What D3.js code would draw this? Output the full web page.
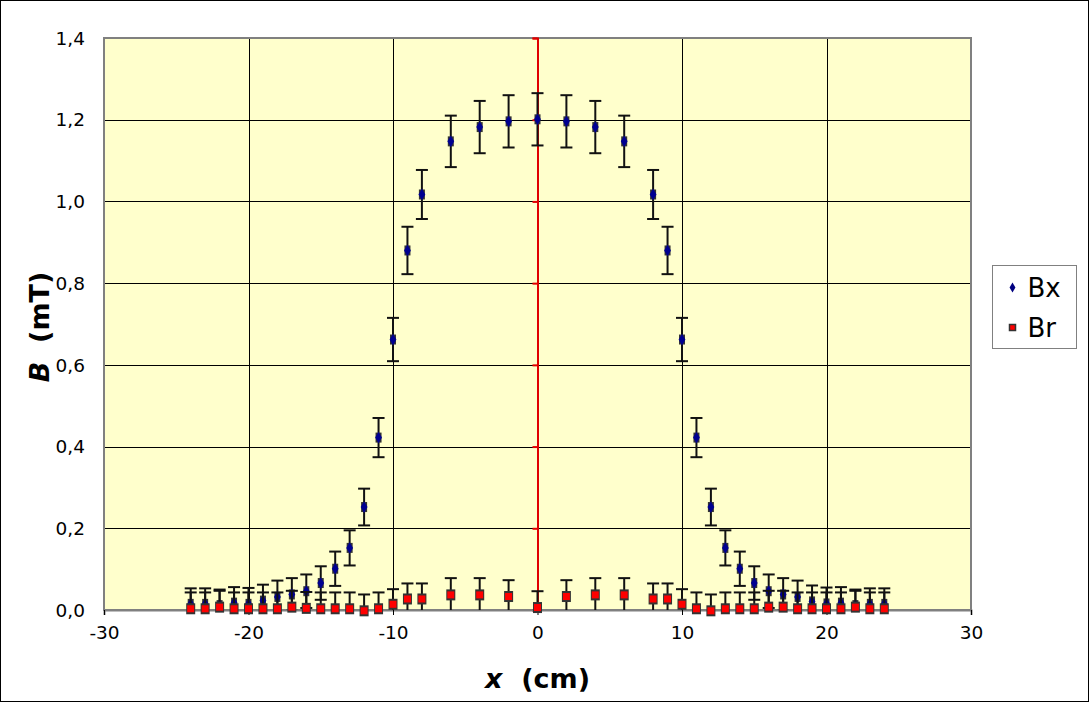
<!DOCTYPE html>
<html>
<head>
<meta charset="utf-8">
<style>
  body { margin: 0; background: #fff; }
  svg text { font-family: "DejaVu Sans", Verdana, sans-serif; }
</style>
</head>
<body>
<div id="chart"></div>
<script src="https://d3js.org/d3.v7.min.js"></script>
<script>
// positions along the axis (cm)
var xCm = [-24, -23, -22, -21, -20, -19, -18, -17, -16, -15, -14, -13, -12, -11, -10, -9, -8,
  -6, -4, -2, 0, 2, 4, 6,
  8, 9, 10, 11, 12, 13, 14, 15, 16, 17, 18, 19, 20, 21, 22, 23, 24];

// axial field Bx (mT)
var bx = [0.015, 0.015, 0.012, 0.018, 0.015, 0.023, 0.032, 0.038, 0.046, 0.066, 0.101, 0.152, 0.252, 0.422, 0.662, 0.880, 1.017,
  1.147, 1.182, 1.196, 1.201, 1.196, 1.182, 1.147,
  1.017, 0.880, 0.662, 0.422, 0.252, 0.152, 0.101, 0.066, 0.046, 0.038, 0.032, 0.021, 0.016, 0.018, 0.012, 0.015, 0.015];
var bxErr = [0.038, 0.038, 0.038, 0.038, 0.039, 0.039, 0.040, 0.040, 0.041, 0.041, 0.042, 0.043, 0.045, 0.048, 0.053, 0.058, 0.060,
  0.063, 0.064, 0.064, 0.064, 0.064, 0.064, 0.063,
  0.060, 0.058, 0.053, 0.048, 0.045, 0.043, 0.042, 0.041, 0.041, 0.040, 0.040, 0.039, 0.039, 0.038, 0.038, 0.038, 0.038];

// radial field Br (mT)
var br = [0.003, 0.003, 0.007, 0.003, 0.003, 0.003, 0.003, 0.007, 0.004, 0.003, 0.003, 0.003, -0.002, 0.003, 0.014, 0.027, 0.027,
  0.037, 0.037, 0.033, 0.006, 0.033, 0.037, 0.037,
  0.027, 0.027, 0.014, 0.003, -0.002, 0.003, 0.003, 0.003, 0.007, 0.007, 0.003, 0.003, 0.003, 0.003, 0.007, 0.003, 0.003];
var brErr = [0.040, 0.040, 0.040, 0.040, 0.040, 0.040, 0.040, 0.040, 0.040, 0.040, 0.040, 0.040, 0.040, 0.040, 0.037, 0.038, 0.038,
  0.041, 0.041, 0.040, 0.040, 0.040, 0.041, 0.041,
  0.038, 0.038, 0.037, 0.040, 0.040, 0.040, 0.040, 0.040, 0.040, 0.040, 0.040, 0.040, 0.040, 0.040, 0.040, 0.040, 0.040];

var xTicks = [-30, -20, -10, 0, 10, 20, 30];
var yTicks = [0, 0.2, 0.4, 0.6, 0.8, 1.0, 1.2, 1.4];
var seriesNames = ["Bx", "Br"];

var W = 1089, H = 702;
var margin = {top: 38, right: 118, bottom: 92, left: 104};
var width = W - margin.left - margin.right,
  height = H - margin.top - margin.bottom;

var svg = d3.select("#chart").append("svg")
  .attr("width", W)
  .attr("height", H);

svg.append("rect")
  .attr("x", 0.5).attr("y", 0.5)
  .attr("width", W - 1).attr("height", H - 1)
  .attr("fill", "#fff")
  .attr("stroke", "#000");

var g = svg.append("g")
  .attr("transform", "translate(" + margin.left + "," + margin.top + ")");

var x = d3.scaleLinear().domain([-30, 30]).range([0, width]);
var y = d3.scaleLinear().domain([0, 1.4]).range([height, 0]);

var fmt = function(v) { return d3.format(".1f")(v).replace(".", ","); };

// plot area
g.append("rect")
  .attr("width", width).attr("height", height)
  .attr("fill", "#FFFFCC");

g.append("clipPath").attr("id", "clip")
  .append("rect").attr("width", width).attr("height", height);

// horizontal grid
g.selectAll(".hgrid")
  .data(yTicks.slice(1, -1))
  .enter().append("line")
  .attr("class", "hgrid")
  .attr("x1", 0).attr("x2", width)
  .attr("y1", function(d) { return Math.round(y(d)) + 0.5; })
  .attr("y2", function(d) { return Math.round(y(d)) + 0.5; })
  .attr("stroke", "#000")
  .attr("stroke-width", 1);

// vertical grid
g.selectAll(".vgrid")
  .data(xTicks.filter(function(d) { return d != 0 && d != -30 && d != 30; }))
  .enter().append("line")
  .attr("class", "vgrid")
  .attr("y1", 0).attr("y2", height)
  .attr("x1", function(d) { return Math.round(x(d)) + 0.5; })
  .attr("x2", function(d) { return Math.round(x(d)) + 0.5; })
  .attr("stroke", "#000")
  .attr("stroke-width", 1);

// plot border
g.append("rect")
  .attr("width", width).attr("height", height)
  .attr("fill", "none")
  .attr("stroke", "#808080")
  .attr("stroke-width", 2);

// red y axis at x = 0
var yAxisG = g.append("g")
  .attr("transform", "translate(" + x(0) + ",0)")
  .call(d3.axisLeft(y).tickValues(yTicks).tickSize(5).tickFormat(""));
yAxisG.select(".domain").attr("stroke", "#E00000").attr("stroke-width", 2);
yAxisG.selectAll(".tick line").attr("stroke", "#E00000").attr("stroke-width", 2);

// y labels at the left of the plot
g.selectAll(".ylab")
  .data(yTicks)
  .enter().append("text")
  .attr("class", "ylab")
  .attr("x", -19)
  .attr("y", function(d) { return y(d); })
  .attr("dy", "0.36em")
  .attr("text-anchor", "end")
  .attr("font-size", 18.5)
  .text(fmt);

// x axis at bottom
var xAxisG = g.append("g")
  .attr("transform", "translate(0," + height + ")")
  .call(d3.axisBottom(x).tickValues(xTicks).tickSize(5).tickPadding(11).tickFormat(d3.format("d")));
xAxisG.select(".domain").attr("stroke", "#808080").attr("stroke-width", 2);
xAxisG.selectAll(".tick line").attr("stroke", "#000");
xAxisG.selectAll("text")
  .attr("font-size", 18.5)
  .attr("font-family", "DejaVu Sans, Verdana, sans-serif")
  .text(function(d) { return d < 0 ? "-" + Math.abs(d) : d; });

// axis titles
var xt = svg.append("text")
  .attr("x", margin.left + x(0))
  .attr("y", 688)
  .attr("text-anchor", "middle")
  .attr("font-size", 27)
  .attr("font-weight", "bold");
xt.append("tspan").attr("font-style", "italic").text("x");
xt.append("tspan").text("\u00a0 (cm)");

var yt = svg.append("text")
  .attr("transform", "translate(49," + (margin.top + height / 2 + 3) + ") rotate(-90)")
  .attr("text-anchor", "middle")
  .attr("font-size", 27)
  .attr("font-weight", "bold");
yt.append("tspan").attr("font-style", "italic").text("B");
yt.append("tspan").text("\u00a0 (mT)");

// data rows
var rowsBx = xCm.map(function(v, i) { return {x: v, y: bx[i], e: bxErr[i]}; });
var rowsBr = xCm.map(function(v, i) { return {x: v, y: br[i], e: brErr[i]}; });

function errorBars(rows, cls) {
  var eg = g.append("g").attr("class", cls).attr("clip-path", "url(#clip)");
  var sel = eg.selectAll("g").data(rows).enter().append("g");
  sel.append("line")
    .attr("x1", function(d) { return x(d.x); })
    .attr("x2", function(d) { return x(d.x); })
    .attr("y1", function(d) { return y(d.y + d.e); })
    .attr("y2", function(d) { return y(d.y - d.e); })
    .attr("stroke", "#111").attr("stroke-width", 2);
  [1, -1].forEach(function(s) {
    sel.append("line")
      .attr("x1", function(d) { return x(d.x) - 6; })
      .attr("x2", function(d) { return x(d.x) + 6; })
      .attr("y1", function(d) { return y(d.y + s * d.e); })
      .attr("y2", function(d) { return y(d.y + s * d.e); })
      .attr("stroke", "#111").attr("stroke-width", 2);
  });
}

errorBars(rowsBx, "errBx");

// Bx markers
var mBx = g.append("g").selectAll("g").data(rowsBx).enter().append("g")
  .attr("transform", function(d) { return "translate(" + x(d.x) + "," + y(d.y) + ")"; });
mBx.append("rect")
  .attr("x", -3).attr("y", -5).attr("width", 6).attr("height", 10)
  .attr("fill", "#333");
mBx.append("path")
  .attr("d", d3.symbol().type(d3.symbolDiamond).size(40))
  .attr("fill", "#000090");

errorBars(rowsBr, "errBr");

// Br markers
var mBr = g.append("g").selectAll("g").data(rowsBr).enter().append("g")
  .attr("transform", function(d) { return "translate(" + x(d.x) + "," + y(d.y) + ")"; });
mBr.append("rect")
  .attr("x", -4.5).attr("y", -5.5).attr("width", 9).attr("height", 11)
  .attr("fill", "#333");
mBr.append("rect")
  .attr("x", -3.5).attr("y", -3.5).attr("width", 7).attr("height", 7)
  .attr("fill", "#FF0000");

// legend
var lg = svg.append("g").attr("transform", "translate(992.5,265.5)");
lg.append("rect")
  .attr("width", 84).attr("height", 83)
  .attr("fill", "#fff")
  .attr("stroke", "#808080");
var items = lg.selectAll(".item").data(seriesNames).enter().append("g")
  .attr("class", "item")
  .attr("transform", function(d, i) { return "translate(0," + (22 + i * 40) + ")"; });
items.append("path")
  .attr("transform", "translate(20,0)")
  .attr("d", function(d, i) {
    return d3.symbol().type(i == 0 ? d3.symbolDiamond : d3.symbolSquare).size(i == 0 ? 30 : 36)();
  })
  .attr("fill", function(d, i) { return i == 0 ? "#000080" : "#FF0000"; })
  .attr("stroke", function(d, i) { return i == 0 ? "none" : "#333"; })
  .attr("stroke-width", 1.5);
items.append("text")
  .attr("x", 35)
  .attr("dy", "0.36em")
  .attr("font-size", 26)
  .text(function(d) { return d; });
</script>
</body>
</html>
